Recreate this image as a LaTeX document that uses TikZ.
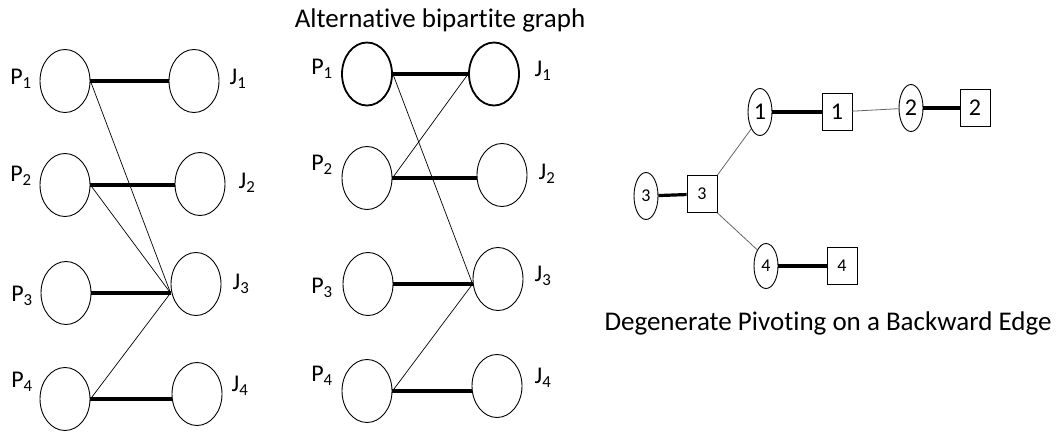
\documentclass[tikz,border=0pt]{standalone}
\usepackage{fontspec}
\setmainfont{Carlito}[Ligatures=NoCommon]
\usetikzlibrary{shapes.geometric, positioning, calc}

\newcommand{\lblsize}{\fontsize{24}{28}\selectfont}
\newcommand{\capsize}{\fontsize{27}{32}\selectfont}

\begin{document}
\begin{tikzpicture}[x=1pt, y=-1pt,
  vert/.style={draw, ellipse, line width=0.9pt, inner sep=0pt, minimum width=50pt, minimum height=63pt},
  heavy/.style={vert, line width=1.8pt},
  lbl/.style={font=\lblsize, inner sep=0pt},
  match/.style={line width=4.6pt},
  alt/.style={line width=0.7pt},
  pnode/.style={draw, ellipse, line width=0.9pt, inner sep=0pt, minimum width=24pt, minimum height=47pt, font=\fontsize{24}{28}\selectfont},
  jnode/.style={draw, rectangle, line width=0.9pt, inner sep=0pt, minimum width=30pt, minimum height=37pt, font=\fontsize{24}{28}\selectfont},
  tight/.style={line width=3.2pt},
  loose/.style={line width=0.8pt, black!60}]
\useasboundingbox (0,0) rectangle (1062,434);

% first bipartite graph
\node[vert] (P1) at (65,81) {};
\node[vert] (P2) at (65,185) {};
\node[vert] (P3) at (66,293) {};
\node[vert] (P4) at (65,399) {};
\node[vert] (J1) at (194,81) {};
\node[vert] (J2) at (200,184) {};
\node[vert] (J3) at (196,284) {};
\node[vert] (J4) at (197,394) {};

\node[lbl] (lP1) at (21,79) {P\textsubscript{1}};
\node[lbl] (lP2) at (21,176) {P\textsubscript{2}};
\node[lbl] (lP3) at (22,296) {P\textsubscript{3}};
\node[lbl] (lP4) at (22,382) {P\textsubscript{4}};
\node[lbl] (lJ1) at (238,79) {J\textsubscript{1}};
\node[lbl] (lJ2) at (247,183) {J\textsubscript{2}};
\node[lbl] (lJ3) at (241,284) {J\textsubscript{3}};
\node[lbl] (lJ4) at (240,386) {J\textsubscript{4}};

\coordinate (a3) at (P3.east -| J3.west);
\draw[match] (P1.east) -- (P1.east -| J1.west);
\draw[match] (P2.east) -- (P2.east -| J2.west);
\draw[match] (P3.east) -- (a3);
\draw[match] (P4.east) -- (P4.east -| J4.west);
\draw[alt] (P1.east) -- (a3);
\draw[alt] (P2.east) -- (a3);
\draw[alt] (P4.east) -- (a3);

% alternative bipartite graph
\node[font=\capsize] (title) at (440,20) {Alternative bipartite graph};

\node[heavy] (Q1) at (367,74) {};
\node[vert] (Q2) at (367,178) {};
\node[vert] (Q3) at (368,284) {};
\node[vert] (Q4) at (367,391) {};
\node[heavy] (K1) at (494,74) {};
\node[vert] (K2) at (502,175) {};
\node[vert] (K3) at (498,279) {};
\node[vert] (K4) at (497,386) {};

\node[lbl] (lQ1) at (322,69) {P\textsubscript{1}};
\node[lbl] (lQ2) at (322,165) {P\textsubscript{2}};
\node[lbl] (lQ3) at (322,288) {P\textsubscript{3}};
\node[lbl] (lQ4) at (322,376) {P\textsubscript{4}};
\node[lbl] (lK1) at (543,71) {J\textsubscript{1}};
\node[lbl] (lK2) at (547,174) {J\textsubscript{2}};
\node[lbl] (lK3) at (543,276) {J\textsubscript{3}};
\node[lbl] (lK4) at (543,378) {J\textsubscript{4}};

\coordinate (b1) at (Q1.east -| K1.west);
\coordinate (b2) at (Q2.east);
\coordinate (b3) at (Q3.east -| K3.west);
\draw[match] (Q1.east) -- (b1);
\draw[match] (b2) -- (Q2.east -| K2.west);
\draw[match] (Q3.east) -- (b3);
\draw[match] (Q4.east) -- (Q4.east -| K4.west);
\draw[alt] (Q1.east) -- (b3);
\draw[alt] (b1) -- (b2);
\draw[alt] (Q4.east) -- (b3);

% degenerate pivoting
\node[pnode] (c1) at (760,112) {1};
\node[jnode] (s1) at (837,112) {1};
\node[pnode] (c2) at (911,108) {2};
\node[jnode] (s2) at (975,108) {2};
\node[pnode, font=\fontsize{18}{22}\selectfont] (c3) at (646,196) {3};
\node[jnode, font=\fontsize{18}{22}\selectfont] (s3) at (702,194) {3};
\node[pnode, minimum height=45pt, font=\fontsize{18}{22}\selectfont] (c4) at (766,266) {4};
\node[jnode, font=\fontsize{18}{22}\selectfont] (s4) at (842,266) {4};

\draw[tight] (c1) -- (s1);
\draw[loose] (s1) -- (c2);
\draw[tight] (c2) -- (s2);
\draw[tight] (c3) -- (s3);
\draw[loose] (s3.north east) -- (c1.south west);
\draw[loose] (s3.south east) -- (c4.north west);
\draw[tight] (c4) -- (s4);

\node[font=\capsize] (caption) at (828,323) {Degenerate Pivoting on a Backward Edge};
\end{tikzpicture}
\end{document}
